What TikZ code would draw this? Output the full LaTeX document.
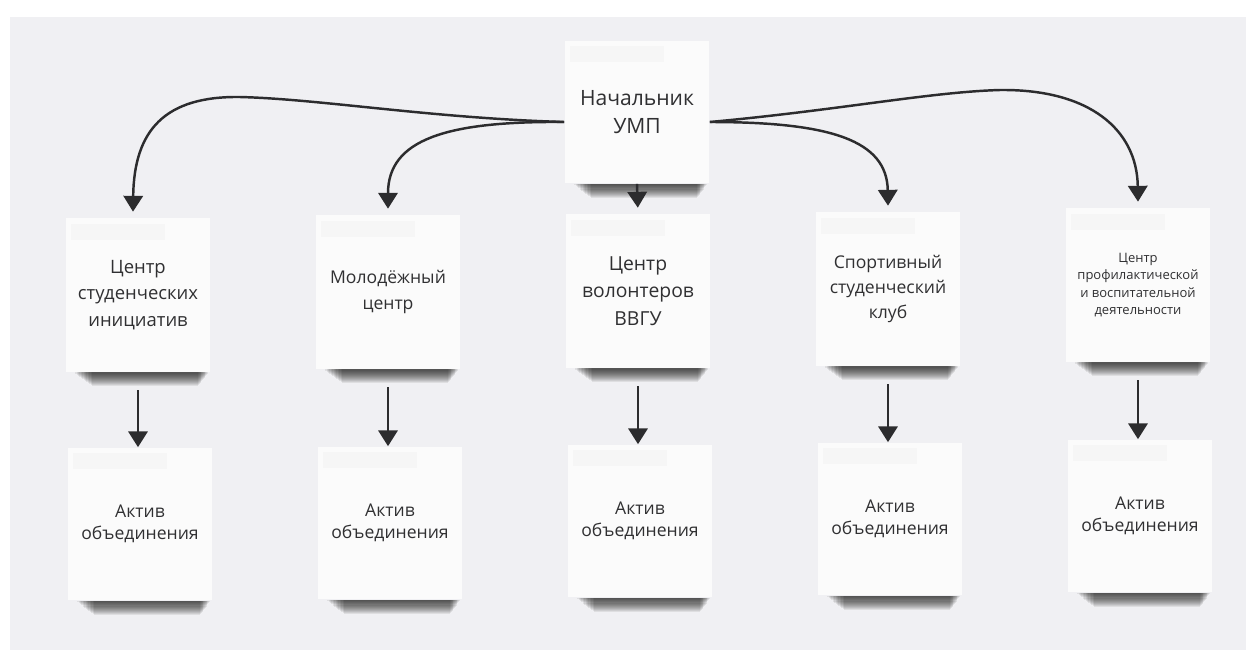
\documentclass[tikz,border=0pt]{standalone}
\usepackage{fontspec}
\setmainfont{Open Sans}
\usetikzlibrary{arrows.meta,calc}

\definecolor{panel}{RGB}{240,240,243}
\definecolor{cardfill}{RGB}{251,251,251}
\definecolor{ink}{RGB}{48,48,50}
\definecolor{wire}{RGB}{44,44,46}

% soft drop shadow under a card: stacked translucent strips
\newcommand\cardshade[1]{%
  \foreach \k in {0,...,12}{%
    \fill[black,opacity=0.075] ($(#1.south west)+(10+1.4*\k,0)$) rectangle ($(#1.south east)+(-3-0.8*\k,1.5+1.05*\k)$);
  }}
% faint grey band along the top of a card
\newcommand\cardband[1]{%
  \fill[black,opacity=0.018] ($(#1.north west)+(6,6)$) rectangle ($(#1.north west)+(100,22)$);}

\begin{document}
\begin{tikzpicture}[x=0.02cm,y=-0.02cm,
  card/.style={fill=cardfill, inner sep=0pt, minimum width=2.9cm,
    minimum height=3.08cm, align=center, text=ink},
  topcard/.style={card, minimum height=2.86cm, font=\fontsize{12}{16}\selectfont},
  midcard/.style={card, font=\fontsize{10.5}{15.2}\selectfont},
  smallcard/.style={card, font=\fontsize{7.4}{9.8}\selectfont},
  lowcard/.style={card, minimum height=3.06cm, font=\fontsize{10}{12.5}\selectfont},
  conn/.style={draw=wire, line width=1.4pt, -{Triangle[width=11pt,length=9pt]}},
]
\useasboundingbox (0,0) rectangle (1252,657);
\fill[white] (0,0) rectangle (1252,657);
\fill[panel] (10,17) rectangle (1246,650);

% head
\node[topcard] (T) at (637,112) {Начальник\\УМП};

% centres
\node[midcard] (C1) at (138,295) {Центр\\студенческих\\инициатив};
\node[midcard, font=\fontsize{10}{15}\selectfont] (C2) at (388,292) {Молодёжный\\центр};
\node[midcard, font=\fontsize{11}{15.6}\selectfont] (C3) at (638,291) {Центр\\волонтеров\\ВВГУ};
\node[midcard, font=\fontsize{10}{14}\selectfont] (C4) at (888,289) {Спортивный\\студенческий\\клуб};
\node[smallcard] (C5) at (1138,285) {Центр\\профилактической\\и воспитательной\\деятельности};

% unions
\node[lowcard] (A1) at (140,524) {Актив\\объединения};
\node[lowcard] (A2) at (390,523) {Актив\\объединения};
\node[lowcard] (A3) at (640,521) {Актив\\объединения};
\node[lowcard] (A4) at (890,519) {Актив\\объединения};
\node[lowcard] (A5) at (1140,516) {Актив\\объединения};

\foreach \n in {T,C1,C2,C3,C4,C5,A1,A2,A3,A4,A5}{\cardband{\n}}
\foreach \n in {T,C1,C2,C3,C4,C5,A1,A2,A3,A4,A5}{\cardshade{\n}}

% head to centres
\draw[conn] ([yshift=-0.2cm]T.west) .. controls (430,118) and (320,99) .. (240,97)
  .. controls (165,96) and (134,130) .. ([xshift=-0.1cm,yshift=0.12cm]C1.north);
\draw[conn] ([yshift=-0.2cm]T.west) .. controls (445,121) and (388,140) .. ([yshift=0.12cm]C2.north);
\draw[conn, shorten >=0.12cm] (T.south) -- (C3.north);
\draw[conn] ([yshift=-0.2cm]T.east) .. controls (830,122) and (887,140) .. ([yshift=0.12cm]C4.north);
\draw[conn] ([yshift=-0.2cm]T.east) .. controls (840,110) and (930,92) .. (1000,90)
  .. controls (1090,89) and (1137,130) .. ([yshift=0.12cm]C5.north);

% centres to unions
\foreach \i in {1,...,5}{
  \draw[conn, shorten <=0.36cm] (C\i.south) -- (C\i.south |- A\i.north);
}
\end{tikzpicture}
\end{document}
